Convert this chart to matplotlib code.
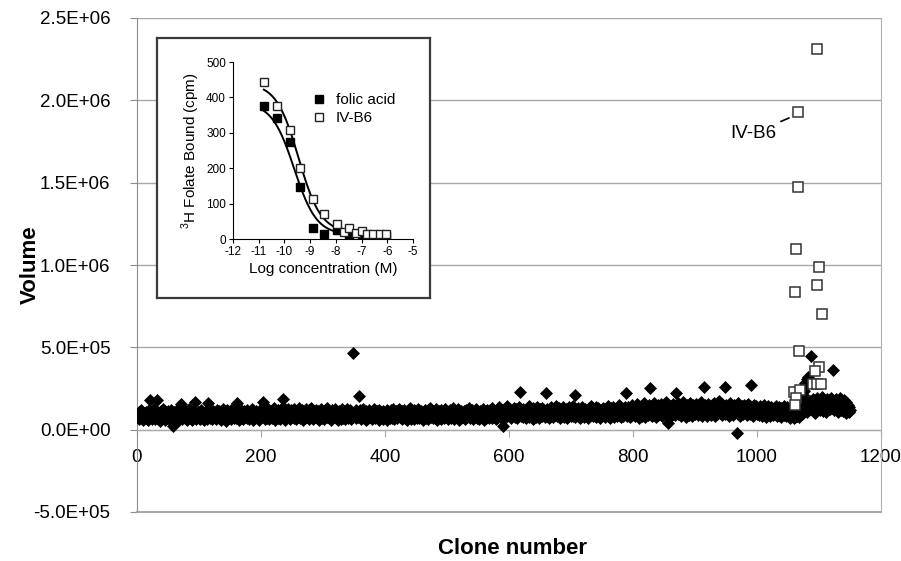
import numpy as np
import matplotlib
matplotlib.use('Agg')
import matplotlib.pyplot as plt
from matplotlib.ticker import FuncFormatter

plt.rcParams['font.family'] = ['Liberation Sans', 'DejaVu Sans']
plt.rcParams['mathtext.fontset'] = 'custom'
plt.rcParams['mathtext.rm'] = 'Liberation Sans'
plt.rcParams['axes.unicode_minus'] = False

# screening volumes, thousands, clone 1 .. 1150 (25 per row)
volume_k = [
    92, 78, 105, 64, 88, 71, 118, 83, 95, 60, 102, 76, 87, 110, 69, 94, 81, 58, 120, 73, 178, 99, 85, 67, 112,
    90, 74, 128, 62, 97, 84, 182, 70, 108, 79, 93, 55, 116, 86, 101, 68, 124, 77, 89, 59, 104, 82, 96, 72, 113,
    80, 65, 99, 87, 121, 71, 92, 22, 106, 75, 84, 98, 63, 117, 79, 90, 57, 109, 85, 72, 158, 94, 66, 102, 81,
    97, 70, 114, 83, 61, 105, 88, 76, 125, 68, 93, 80, 101, 59, 111, 74, 87, 99, 166, 64, 90, 78, 107, 85, 71,
    96, 62, 119, 84, 77, 103, 91, 58, 110, 73, 88, 100, 67, 122, 160, 81, 95, 70, 108, 86, 63, 115, 79, 92, 74,
    104, 89, 66, 120, 82, 97, 71, 112, 85, 60, 99, 78, 127, 69, 93, 87, 106, 75, 54, 117, 83, 95, 72, 109, 88,
    65, 101, 79, 123, 90, 73, 98, 84, 113, 68, 162, 94, 80, 57, 107, 86, 119, 72, 96, 83, 62, 111, 89, 76, 102,
    85, 70, 118, 93, 64, 105, 81, 97, 74, 126, 88, 59, 109, 79, 95, 68, 115, 87, 102, 73, 91, 61, 121, 84, 99,
    77, 108, 170, 82, 94, 66, 116, 89, 71, 103, 86, 125, 63, 98, 80, 112, 92, 69, 107, 75, 130, 87, 58, 101, 83,
    96, 72, 119, 85, 104, 67, 93, 110, 78, 135, 188, 88, 61, 114, 97, 74, 106, 82, 127, 90, 65, 100, 86, 118, 76,
    92, 108, 70, 123, 84, 99, 63, 115, 87, 77, 132, 95, 68, 104, 81, 120, 91, 58, 110, 86, 73, 126, 94, 79, 103,
    88, 66, 117, 97, 75, 129, 83, 105, 62, 112, 90, 78, 121, 85, 100, 69, 114, 93, 57, 108, 80, 124, 89, 72, 101,
    95, 64, 119, 82, 106, 77, 131, 91, 68, 111, 86, 99, 60, 122, 84, 74, 109, 96, 81, 127, 70, 103, 88, 56, 116,
    92, 79, 105, 67, 124, 87, 98, 73, 113, 62, 101, 84, 128, 94, 71, 108, 80, 119, 90, 66, 104, 87, 75, 463, 97,
    83, 110, 68, 122, 95, 74, 102, 206, 86, 118, 63, 99, 81, 126, 92, 70, 107, 88, 59, 115, 84, 97, 72, 121, 90,
    76, 104, 87, 64, 116, 93, 80, 125, 69, 100, 85, 111, 73, 96, 61, 119, 89, 78, 107, 94, 66, 113, 82, 98, 75,
    109, 86, 60, 121, 91, 77, 103, 68, 117, 84, 95, 72, 128, 88, 63, 106, 80, 114, 97, 70, 101, 87, 124, 74, 93,
    81, 112, 66, 99, 85, 120, 71, 105, 90, 58, 116, 83, 96, 75, 130, 87, 67, 108, 92, 79, 119, 62, 102, 86, 111,
    73, 94, 82, 126, 69, 100, 88, 114, 76, 97, 61, 109, 84, 122, 91, 71, 104, 80, 117, 65, 98, 87, 131, 75, 93,
    107, 68, 115, 83, 96, 72, 123, 89, 57, 103, 86, 111, 77, 99, 64, 118, 92, 81, 106, 70, 127, 85, 95, 74, 110,
    88, 62, 101, 79, 119, 93, 71, 108, 84, 134, 97, 67, 113, 82, 90, 76, 124, 87, 60, 105, 94, 73, 116, 85, 99,
    78, 112, 91, 65, 121, 86, 102, 74, 96, 129, 83, 69, 107, 92, 80, 118, 63, 100, 88, 75, 125, 94, 71, 110, 86,
    97, 66, 115, 82, 104, 90, 77, 128, 85, 61, 109, 93, 73, 120, 98, 81, 106, 68, 117, 89, 95, 72, 131, 84, 102,
    79, 113, 92, 64, 122, 87, 100, 74, 138, 96, 83, 110, 70, 118, 91, 22, 105, 86, 127, 78, 99, 143, 88, 112, 95,
    84, 120, 103, 71, 115, 97, 89, 132, 78, 108, 93, 125, 68, 101, 87, 139, 228, 96, 117, 82, 110, 74, 128, 99, 86,
    113, 92, 70, 124, 105, 88, 141, 79, 100, 118, 85, 96, 66, 130, 108, 91, 121, 76, 102, 136, 87, 114, 95, 73, 126,
    98, 110, 82, 133, 90, 119, 104, 77, 222, 94, 128, 86, 107, 69, 116, 100, 137, 83, 112, 92, 74, 125, 103, 88, 145,
    96, 80, 118, 107, 91, 131, 72, 114, 99, 123, 85, 140, 102, 78, 111, 94, 127, 87, 68, 119, 105, 135, 90, 116, 81,
    109, 97, 142, 86, 124, 75, 212, 101, 117, 92, 130, 83, 106, 120, 71, 113, 98, 136, 88, 104, 79, 127, 95, 115, 84,
    121, 102, 73, 133, 93, 110, 87, 146, 99, 118, 80, 125, 106, 91, 138, 76, 114, 97, 129, 85, 107, 68, 122, 100, 116,
    89, 134, 95, 112, 78, 126, 103, 92, 141, 84, 119, 108, 70, 131, 96, 115, 87, 137, 101, 74, 123, 94, 110, 82, 128,
    105, 147, 91, 117, 99, 79, 132, 111, 86, 124, 97, 140, 220, 107, 118, 83, 135, 93, 113, 76, 127, 102, 150, 88, 121,
    110, 96, 138, 82, 125, 104, 153, 91, 117, 73, 131, 100, 144, 86, 121, 108, 95, 159, 113, 78, 134, 99, 126, 88, 147,
    105, 255, 119, 92, 140, 81, 128, 111, 162, 97, 135, 74, 122, 103, 150, 89, 116, 131, 94, 157, 108, 84, 143, 120, 100,
    136, 112, 90, 165, 124, 40, 148, 102, 118, 79, 141, 109, 130, 96, 155, 115, 87, 139, 225, 105, 127, 93, 160, 117, 99,
    146, 121, 83, 133, 108, 170, 97, 142, 114, 126, 76, 152, 104, 137, 119, 91, 163, 110, 129, 86, 149, 101, 123, 138, 95,
    117, 158, 106, 131, 88, 144, 122, 100, 168, 113, 135, 80, 127, 260, 109, 150, 96, 140, 118, 85, 156, 125, 103, 137, 114,
    92, 147, 129, 107, 161, 120, 84, 139, 111, 153, 98, 132, 116, 172, 102, 143, 124, 89, 155, 108, 134, 119, 258, 95, 148,
    126, 104, 138, 115, 82, 159, 121, 99, 145, 112, 133, 91, 150, 118, 107, 140, -20, 128, 96, 164, 110, 86, 136, 123, 101,
    144, 117, 93, 152, 130, 105, 139, 120, 88, 157, 113, 127, 98, 146, 270, 109, 134, 122, 80, 148, 115, 103, 141, 125, 94,
    132, 108, 119, 90, 143, 101, 126, 84, 137, 112, 97, 150, 116, 79, 129, 105, 141, 93, 121, 110, 86, 135, 99, 124, 113,
    88, 130, 107, 96, 145, 118, 82, 127, 103, 139, 92, 115, 76, 133, 109, 98, 124, 87, 142, 111, 80, 120, 95, 136, 104,
    91, 128, 72, 114, 99, 83, 125, 106, 68, 117, 94, 79, 131, 100, 86, 112, 74, 138, 103, 150, 172, 96, 190, 210, 232,
    258, 122, 285, 140, 305, 110, 322, 155, 300, 131, 175, 445, 162, 118, 148, 186, 135, 170, 102, 158, 194, 126, 165, 143, 180,
    150, 121, 174, 138, 196, 112, 160, 183, 129, 147, 170, 105, 189, 155, 136, 178, 124, 163, 145, 192, 132, 365, 158, 117, 171,
    140, 185, 127, 162, 109, 176, 148, 134, 190, 120, 157, 143, 168, 113, 182, 130, 152, 99, 165, 138, 126, 147, 110, 135, 118,
]
clone = np.arange(1, len(volume_k) + 1)
volume = np.array(volume_k) * 1000.0

# IV-B6 positives (open squares)
pos_clone = [1097, 1066, 1066, 1063, 1061, 1100, 1097, 1105, 1067, 1100, 1094, 1060, 1069, 1091, 1097, 1103, 1063, 1062]
pos_volume_k = [2310, 1930, 1475, 1100, 835, 990, 880, 705, 480, 380, 355, 230, 240, 280, 280, 280, 195, 150]

# inset: competition binding
log_conc = [-10.8, -10.3, -9.8, -9.4, -8.9, -8.45, -7.95, -7.5, -7.0, -6.55, -6.05]
folic_cpm = [376, 342, 275, 147, 32, 15, 26, 10, 8, 8, 8]
ivb6_conc = [-10.8, -10.3, -9.8, -9.4, -8.9, -8.45, -7.95, -7.7, -7.5, -7.2, -7.0, -6.8, -6.55, -6.3, -6.05]
ivb6_cpm = [443, 376, 307, 201, 113, 72, 42, 20, 30, 18, 23, 15, 15, 14, 15]
# one-site fit parameters (top, bottom, logIC50)
folic_fit = (385, 12, -9.62)
ivb6_fit = (440, 18, -9.45)

W, H = 901, 561
fig = plt.figure(figsize=(W / 100, H / 100), dpi=100)
ax = fig.add_axes([137 / W, 1 - 512 / H, (881 - 137) / W, (512 - 18) / H])

ax.plot(clone, volume, 'D', color='black', ms=6.5, mec='black', mew=0.5, zorder=3)
ax.plot(pos_clone, np.array(pos_volume_k) * 1000.0, 's', mfc='white', mec='#333333',
        ms=7, mew=1.1, zorder=4)
ax.annotate('IV-B6', xy=(1062, 1.91e6), xytext=(1032, 1.80e6), ha='right', va='center',
            fontsize=13.5, arrowprops=dict(arrowstyle='-', color='black', lw=1.2, shrinkA=1, shrinkB=5))

ax.set_xlim(0, 1200)
ax.set_ylim(-5e5, 2.5e6)
ax.set_xticks(range(0, 1201, 200))
ax.set_yticks(np.arange(-5e5, 2.5e6 + 1, 5e5))
ax.yaxis.set_major_formatter(FuncFormatter(lambda v, p: '%.1E' % v))
ax.grid(axis='y', color='#a8a8a8', lw=1)
ax.axhline(-5e5, color='#a8a8a8', lw=1.5, clip_on=False, zorder=1)
ax.set_axisbelow(True)
ax.spines['top'].set_visible(False)
ax.spines['right'].set_color('#b0b0b0')
ax.spines['left'].set_color('#8c8c8c')
ax.spines['bottom'].set_position(('data', 0))
ax.spines['bottom'].set_color('#a8a8a8')
ax.tick_params(axis='y', direction='out', length=5, color='#8c8c8c', pad=14, labelsize=13.5)
ax.tick_params(axis='x', direction='out', length=5, color='#a8a8a8', pad=9, labelsize=13.5)

fig.text(30 / W, 1 - 265 / H, 'Volume', rotation=90, ha='center', va='center',
         fontsize=16, fontweight='bold')
fig.text(512 / W, 1 - 548 / H, 'Clone number', ha='center', va='center',
         fontsize=16, fontweight='bold')

# inset frame
box = fig.add_axes([157 / W, 1 - 298 / H, (430 - 157) / W, (298 - 38) / H])
box.set_xticks([])
box.set_yticks([])
for s in box.spines.values():
    s.set_color('#3a3a3a')
    s.set_linewidth(1.6)
box.set_zorder(5)

ins = fig.add_axes([233 / W, 1 - 239 / H, 180 / W, 177 / H])
ins.set_zorder(6)
ins.patch.set_alpha(0)
xs = np.linspace(-10.8, -6.0, 200)
for (top, bot, ic50) in (folic_fit, ivb6_fit):
    ins.plot(xs, bot + (top - bot) / (1 + 10 ** (xs - ic50)), color='black', lw=1.4)
ins.plot(log_conc, folic_cpm, 's', color='black', ms=5.5, label='folic acid')
ins.plot(ivb6_conc, ivb6_cpm, 's', mfc='white', mec='#222222', mew=1, ms=5.5, label='IV-B6')
ins.set_xlim(-12, -5)
ins.set_ylim(0, 500)
ins.set_xticks(range(-12, -4))
ins.set_yticks(range(0, 501, 100))
ins.spines['top'].set_visible(False)
ins.spines['right'].set_visible(False)
ins.tick_params(direction='out', length=3, labelsize=8.5, pad=2)
ins.set_xlabel('Log concentration (M)', fontsize=11, labelpad=3)
ins.set_ylabel(r'$^{3}$H Folate Bound (cpm)', fontsize=11, labelpad=3)
ins.legend(loc='upper left', bbox_to_anchor=(0.40, 0.86), frameon=False, fontsize=11,
           handlelength=1.0, handletextpad=0.6, labelspacing=0.3, borderaxespad=0)

fig.savefig('out.png', dpi=100)
